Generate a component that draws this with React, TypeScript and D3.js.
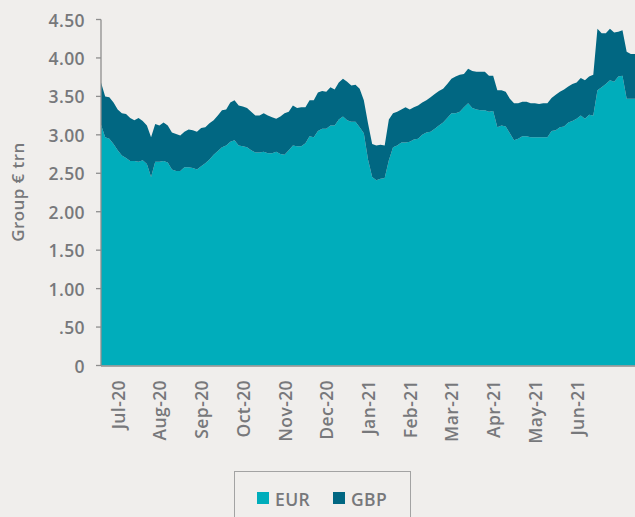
import React from 'react';
import * as d3 from 'd3';

const eurValues = [
  3.13, 2.97, 2.95, 2.88, 2.80, 2.73, 2.70, 2.66, 2.66, 2.65,
  2.67, 2.62, 2.45, 2.65, 2.65, 2.66, 2.64, 2.55, 2.53, 2.53,
  2.58, 2.58, 2.57, 2.55, 2.59, 2.63, 2.68, 2.74, 2.79, 2.84,
  2.86, 2.91, 2.93, 2.86, 2.85, 2.84, 2.80, 2.77, 2.77, 2.78,
  2.76, 2.76, 2.78, 2.75, 2.74, 2.80, 2.86, 2.85, 2.85, 2.89,
  2.98, 2.97, 3.05, 3.08, 3.08, 3.12, 3.12, 3.20, 3.24, 3.19,
  3.17, 3.17, 3.10, 3.02, 2.68, 2.45, 2.41, 2.43, 2.44, 2.67,
  2.84, 2.86, 2.90, 2.90, 2.91, 2.94, 2.95, 3.00, 3.03, 3.04,
  3.08, 3.12, 3.16, 3.22, 3.28, 3.28, 3.30, 3.36, 3.41, 3.35,
  3.33, 3.32, 3.32, 3.30, 3.31, 3.10, 3.12, 3.11, 3.02, 2.93,
  2.95, 2.98, 2.98, 2.97, 2.97, 2.97, 2.97, 2.97, 3.05, 3.06,
  3.10, 3.11, 3.16, 3.18, 3.21, 3.25, 3.21, 3.26, 3.25, 3.58,
  3.62, 3.66, 3.71, 3.69, 3.76, 3.77, 3.47, 3.47, 3.47,
];

const gbpValues = [
  0.55, 0.53, 0.54, 0.54, 0.53, 0.55, 0.57, 0.56, 0.53, 0.57,
  0.51, 0.50, 0.52, 0.49, 0.47, 0.50, 0.48, 0.48, 0.48, 0.46,
  0.46, 0.49, 0.49, 0.49, 0.50, 0.47, 0.47, 0.45, 0.46, 0.48,
  0.47, 0.51, 0.52, 0.52, 0.52, 0.51, 0.50, 0.48, 0.48, 0.50,
  0.49, 0.47, 0.43, 0.49, 0.54, 0.50, 0.52, 0.50, 0.51, 0.47,
  0.47, 0.48, 0.50, 0.49, 0.48, 0.50, 0.47, 0.48, 0.49, 0.50,
  0.47, 0.48, 0.50, 0.43, 0.47, 0.43, 0.45, 0.44, 0.42, 0.53,
  0.44, 0.44, 0.43, 0.46, 0.42, 0.42, 0.43, 0.42, 0.42, 0.45,
  0.45, 0.45, 0.44, 0.44, 0.45, 0.48, 0.48, 0.43, 0.45, 0.48,
  0.49, 0.50, 0.50, 0.47, 0.46, 0.48, 0.46, 0.45, 0.45, 0.48,
  0.46, 0.45, 0.45, 0.44, 0.44, 0.43, 0.44, 0.44, 0.43, 0.46,
  0.46, 0.48, 0.47, 0.48, 0.47, 0.49, 0.50, 0.50, 0.53, 0.80,
  0.70, 0.66, 0.67, 0.64, 0.58, 0.59, 0.61, 0.58, 0.58,
];

const monthLabels = [
  'Jul-20', 'Aug-20', 'Sep-20', 'Oct-20', 'Nov-20', 'Dec-20',
  'Jan-21', 'Feb-21', 'Mar-21', 'Apr-21', 'May-21', 'Jun-21',
];
const labelStartIndex = 4;
const labelStep = 10;

const yTicks = [0, 0.5, 1, 1.5, 2, 2.5, 3, 3.5, 4, 4.5];
const seriesNames = ['EUR', 'GBP'];
const seriesColors: Record<string, string> = { EUR: '#00adbb', GBP: '#016782' };

const yTitle = 'Group € trn';

const TEXT = '#77787b';
const AXIS = '#8e8e8e';
const FONT = '"Open Sans", sans-serif';

function fmt(v: number) {
  if (v === 0) return '0';
  if (v < 1) return v.toFixed(2).replace(/^0/, '');
  return v.toFixed(2);
}

export default function App() {
  const W = 635;
  const H = 517;
  const left = 101;
  const right = 635;
  const top = 19.5;
  const bottom = 365.5;

  const x = d3.scaleLinear().domain([0, eurValues.length - 1]).range([left, right]);
  const y = d3.scaleLinear().domain([0, 4.5]).range([bottom, top]);

  const rows = eurValues.map((e, i) => ({ i, EUR: e, GBP: gbpValues[i] }));
  const stacked = d3.stack<any>().keys(seriesNames)(rows);
  const area = d3
    .area<any>()
    .x((d: any) => x(d.data.i))
    .y0((d: any) => y(d[0]))
    .y1((d: any) => y(d[1]));

  const textProps = { fontSize: 17.5, fontWeight: 600, letterSpacing: 0.4, fill: TEXT };

  return (
    <svg
      width={W}
      height={H}
      style={{ position: 'absolute', left: 0, top: 0, background: '#f0eeec' }}
      fontFamily={FONT}
    >
      <rect x={0} y={0} width={W} height={H} fill="#f0eeec" />
      {stacked.map((s: any) => (
        <path key={s.key} d={area(s) || ''} fill={seriesColors[s.key]} />
      ))}
      {/* y axis */}
      <line x1={left} x2={left} y1={top} y2={bottom + 0.5} stroke={AXIS} strokeWidth={1.3} />
      {yTicks.map((t) => (
        <g key={t}>
          <line x1={left - 5} x2={left} y1={y(t)} y2={y(t)} stroke={AXIS} strokeWidth={1.3} />
          <text x={85} y={y(t)} textAnchor="end" dominantBaseline="central" {...textProps}>
            {fmt(t)}
          </text>
        </g>
      ))}
      {/* x axis */}
      <line x1={left} x2={right} y1={bottom + 0.5} y2={bottom + 0.5} stroke={AXIS} strokeWidth={1.3} />
      {monthLabels.map((m, k) => {
        const xc = x(labelStartIndex + k * labelStep);
        return (
          <text
            key={m}
            transform={`translate(${xc},380) rotate(-90)`}
            textAnchor="end"
            dominantBaseline="central"
            {...textProps}
          >
            {m}
          </text>
        );
      })}
      {/* y title */}
      <text
        transform={`translate(17,192) rotate(-90)`}
        textAnchor="middle"
        dominantBaseline="central"
        {...textProps}
        fontSize={17}
      >
        {yTitle}
      </text>
      {/* legend */}
      <rect x={234.5} y={471.5} width={176} height={60} fill="none" stroke="#a3a3a3" strokeWidth={1} />
      {seriesNames.map((n, k) => {
        const lx = 257 + k * 76;
        return (
          <g key={n}>
            <rect x={lx} y={492} width={12} height={12} fill={seriesColors[n]} />
            <text x={lx + 18} y={498.5} dominantBaseline="central" {...textProps}>
              {n}
            </text>
          </g>
        );
      })}
    </svg>
  );
}
